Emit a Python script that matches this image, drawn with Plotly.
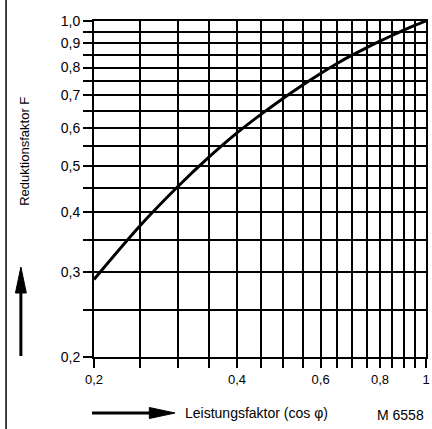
import plotly.graph_objects as go

# Data
cos_phi = [0.20, 0.25, 0.30, 0.35, 0.40, 0.45, 0.50, 0.55, 0.60, 0.65,
           0.70, 0.75, 0.80, 0.85, 0.90, 0.95, 1.00]
factor_F = [0.290, 0.375, 0.452, 0.522, 0.585, 0.640, 0.690, 0.736, 0.778, 0.816,
            0.850, 0.880, 0.908, 0.934, 0.958, 0.980, 1.000]

grid_vals = [0.20, 0.25, 0.30, 0.35, 0.40, 0.45, 0.50, 0.55, 0.60, 0.65,
             0.70, 0.75, 0.80, 0.85, 0.90, 0.95, 1.00]
x_labels = {0.2: "0,2", 0.4: "0,4", 0.6: "0,6", 0.8: "0,8", 1.0: "1"}
y_labels = {0.2: "0,2", 0.3: "0,3", 0.4: "0,4", 0.5: "0,5", 0.6: "0,6",
            0.7: "0,7", 0.8: "0,8", 0.9: "0,9", 1.0: "1,0"}

x_ticktext = [x_labels.get(round(v, 2), "") for v in grid_vals]
y_ticktext = [y_labels.get(round(v, 2), "") for v in grid_vals]

W, H = 432, 429
L, R, T, B = 94, 2, 21, 72
PW, PH = W - L - R, H - T - B

def px(x):
    return (x - L) / PW

def py(y):
    return (H - B - y) / PH

FONT = "Liberation Sans, Arial, sans-serif"

fig = go.Figure()
fig.add_trace(go.Scatter(
    x=cos_phi, y=factor_F, mode="lines",
    line=dict(color="black", width=3, shape="spline", smoothing=0.8),
    showlegend=False, hoverinfo="skip",
))

axis_common = dict(
    type="log",
    tickmode="array",
    tickvals=grid_vals,
    showgrid=True, gridcolor="black", gridwidth=2,
    ticks="outside", ticklen=9, tickwidth=2, tickcolor="black",
    showline=True, linecolor="black", linewidth=2, mirror=True,
    fixedrange=True,
)

fig.update_xaxes(range=[-0.69897, 0.0], ticktext=x_ticktext,
                 tickfont=dict(family=FONT, size=13, color="black"), **axis_common)
fig.update_yaxes(range=[-0.69897, 0.0], ticktext=y_ticktext,
                 tickfont=dict(family=FONT, size=14, color="black"), **axis_common)

shapes = []
# left border line of the scanned page
shapes.append(dict(type="line", xref="paper", yref="paper",
                   x0=px(5), x1=px(5), y0=py(0), y1=py(429),
                   line=dict(color="black", width=1.5)))
# up arrow (y-axis direction)
shapes.append(dict(type="line", xref="paper", yref="paper",
                   x0=px(20), x1=px(20), y0=py(356), y1=py(290),
                   line=dict(color="black", width=3)))
shapes.append(dict(type="path", xref="paper", yref="paper",
                   path=f"M {px(14.5)} {py(293)} L {px(25.5)} {py(293)} L {px(20)} {py(267)} Z",
                   fillcolor="black", line=dict(color="black", width=1)))
# right arrow (x-axis direction)
shapes.append(dict(type="line", xref="paper", yref="paper",
                   x0=px(92), x1=px(152), y0=py(413), y1=py(413),
                   line=dict(color="black", width=3)))
shapes.append(dict(type="path", xref="paper", yref="paper",
                   path=f"M {px(150)} {py(407.5)} L {px(150)} {py(418.5)} L {px(176)} {py(413)} Z",
                   fillcolor="black", line=dict(color="black", width=1)))

annotations = [
    dict(text="Reduktionsfaktor F", xref="paper", yref="paper",
         x=px(23), y=py(151), textangle=-90, showarrow=False,
         xanchor="center", yanchor="middle",
         font=dict(family=FONT, size=13, color="black")),
    dict(text="Leistungsfaktor (cos φ)", xref="paper", yref="paper",
         x=px(184), y=py(413), showarrow=False,
         xanchor="left", yanchor="middle",
         font=dict(family=FONT, size=14, color="black")),
    dict(text="M 6558", xref="paper", yref="paper",
         x=px(378), y=py(415), showarrow=False,
         xanchor="left", yanchor="middle",
         font=dict(family=FONT, size=14, color="black")),
]

fig.update_layout(
    width=W, height=H,
    margin=dict(l=L, r=R, t=T, b=B, pad=0),
    paper_bgcolor="white", plot_bgcolor="white",
    shapes=shapes, annotations=annotations,
    showlegend=False,
)

fig.write_html(
    "out.html",
    config={"displayModeBar": False, "staticPlot": True},
    post_script="document.body.style.margin='0';document.body.style.padding='0';document.body.style.overflow='hidden';",
)
